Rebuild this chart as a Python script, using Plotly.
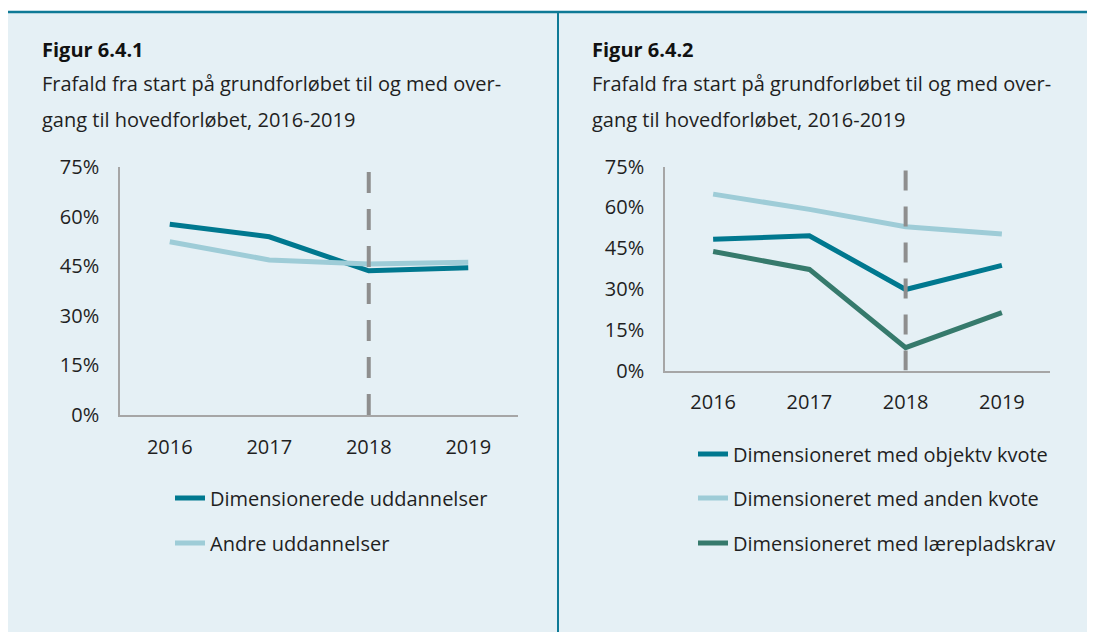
import plotly.graph_objects as go

W, H = 1095, 632
# the page body adds an 8px margin; positions below are given in
# reference-image pixels and shifted back by this offset
OX, OY = 8, 8

years = ["2016", "2017", "2018", "2019"]
marker_year = "2018"

# Figure 6.4.1
dim_udd = [57.7, 53.9, 43.6, 44.5]
andre_udd = [52.4, 46.9, 45.7, 46.2]

# Figure 6.4.2
obj_kvote = [48.3, 49.6, 29.8, 38.7]
anden_kvote = [64.9, 59.3, 52.9, 50.2]
laereplads = [43.8, 37.2, 8.4, 21.3]

y_ticks = [0, 15, 30, 45, 60, 75]
y_tick_labels = ["0%", "15%", "30%", "45%", "60%", "75%"]

title1 = "Figur 6.4.1"
title2 = "Figur 6.4.2"
subtitle_l1 = "Frafald fra start på grundforløbet til og med over-"
subtitle_l2 = "gang til hovedforløbet, 2016-2019"

C_DARK = "#00788F"
C_LIGHT = "#9ECCD7"
C_GREEN = "#367A6C"
C_BG = "#E5F0F5"
C_FRAME = "#0E7A96"
C_AXIS = "#A6A6A6"
C_DASH = "#8E8E8E"
TXT = "#1F1F1F"
FONT = "Open Sans"
FS = 20


def px(x):
    return (x - OX) / W


def py(y):
    return 1 - (y - OY) / H


fig = go.Figure()

series = [
    ("x", "y", "Dimensionerede uddannelser", dim_udd, C_DARK, "legend"),
    ("x", "y", "Andre uddannelser", andre_udd, C_LIGHT, "legend2"),
    ("x2", "y2", "Dimensioneret med objektv kvote", obj_kvote, C_DARK, "legend3"),
    ("x2", "y2", "Dimensioneret med anden kvote", anden_kvote, C_LIGHT, "legend4"),
    ("x2", "y2", "Dimensioneret med lærepladskrav", laereplads, C_GREEN, "legend5"),
]
for xa, ya, name, vals, col, lg in series:
    fig.add_trace(go.Scatter(
        x=years, y=vals, name=name, mode="lines", xaxis=xa, yaxis=ya,
        line=dict(color=col, width=5), legend=lg, showlegend=True,
        hoverinfo="skip"))

axis_common = dict(
    showgrid=False, zeroline=False, showline=True, linecolor=C_AXIS,
    linewidth=1.5, ticks="", tickfont=dict(family=FONT, size=FS, color=TXT),
    fixedrange=True, automargin=False)

fig.update_layout(
    width=W, height=H,
    margin=dict(l=0, r=0, t=0, b=0, pad=0, autoexpand=False),
    paper_bgcolor=C_BG,
    plot_bgcolor="rgba(0,0,0,0)",
    font=dict(family=FONT, color=TXT),
    xaxis=dict(domain=[px(120), px(518)], anchor="y", type="category",
               range=[-0.5, 3.5], ticklabelstandoff=13, **axis_common),
    yaxis=dict(domain=[py(415), py(167)], anchor="x", range=[0, 75],
               tickvals=y_ticks, ticktext=y_tick_labels,
               ticklabelstandoff=15, **axis_common),
    xaxis2=dict(domain=[px(665), px(1050)], anchor="y2", type="category",
                range=[-0.5, 3.5], ticklabelstandoff=13, **axis_common),
    yaxis2=dict(domain=[py(370.5), py(166.7)], anchor="x2", range=[0, 75],
                tickvals=y_ticks, ticktext=y_tick_labels,
                ticklabelstandoff=15, **axis_common),
)

# legends, one entry each so they can be spaced like the original
leg_font = dict(family=FONT, size=FS, color=TXT)
leg_pos = {
    "legend": (210, 498),
    "legend2": (210, 543),
    "legend3": (733, 454),
    "legend4": (733, 498),
    "legend5": (733, 543),
}
for key, (lx, ly) in leg_pos.items():
    fig.update_layout({key: dict(x=px(lx - 40), y=py(ly), xanchor="left",
                                 yanchor="middle", bgcolor="rgba(0,0,0,0)",
                                 borderwidth=0, font=leg_font,
                                 itemclick=False, itemdoubleclick=False)})

marker_idx = years.index(marker_year)
shapes = [
    # white strip above the panel
    dict(type="rect", xref="paper", yref="paper", x0=0, x1=1,
         y0=py(12), y1=1, fillcolor="white", line=dict(width=0),
         layer="below"),
    # top rule
    dict(type="line", xref="paper", yref="paper", x0=0, x1=1,
         y0=py(12), y1=py(12), line=dict(color=C_FRAME, width=2.5)),
    # divider
    dict(type="line", xref="paper", yref="paper", x0=px(558), x1=px(558),
         y0=0, y1=py(12), line=dict(color=C_FRAME, width=2)),
    # 2018 dashed markers
    dict(type="line", xref="x", yref="y", x0=marker_idx, x1=marker_idx,
         y0=0, y1=74.3, line=dict(color=C_DASH, width=4, dash="21px,16px")),
    dict(type="line", xref="x2", yref="y2", x0=marker_idx, x1=marker_idx,
         y0=0, y1=75, line=dict(color=C_DASH, width=4, dash="20px,16px")),
]
fig.update_layout(shapes=shapes)

annotations = []
for xpx, t in [(40, title1), (590, title2)]:
    annotations.append(dict(xref="paper", yref="paper", x=px(xpx), y=py(49),
                            xanchor="left", yanchor="middle", showarrow=False,
                            text="<b>" + t + "</b>",
                            font=dict(family=FONT, size=FS, color="#111111")))
    annotations.append(dict(xref="paper", yref="paper", x=px(xpx), y=py(84),
                            xanchor="left", yanchor="middle", showarrow=False,
                            text=subtitle_l1,
                            font=dict(family=FONT, size=FS, color=TXT)))
    annotations.append(dict(xref="paper", yref="paper", x=px(xpx), y=py(119),
                            xanchor="left", yanchor="middle", showarrow=False,
                            text=subtitle_l2,
                            font=dict(family=FONT, size=FS, color=TXT)))
fig.update_layout(annotations=annotations)

fig.write_html("out.html", config={"displayModeBar": False})
